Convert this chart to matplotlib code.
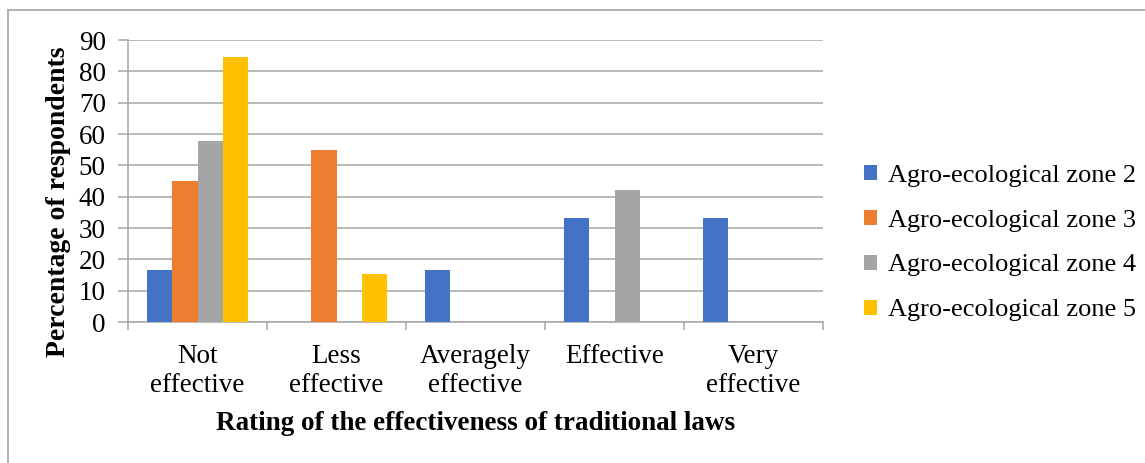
import matplotlib
matplotlib.use("Agg")
import matplotlib.pyplot as plt
import numpy as np
from matplotlib.lines import Line2D

categories = ["Not\neffective", "Less\neffective", "Averagely\neffective", "Effective", "Very\neffective"]
series_names = ["Agro-ecological zone 2", "Agro-ecological zone 3", "Agro-ecological zone 4", "Agro-ecological zone 5"]
zone2 = [16.7, 0, 16.7, 33.3, 33.3]
zone3 = [45.0, 55.0, 0, 0, 0]
zone4 = [57.9, 0, 0, 42.1, 0]
zone5 = [84.6, 15.4, 0, 0, 0]
colors = ["#4472C4", "#ED7D31", "#A5A5A5", "#FFC000"]

plt.rcParams['font.family'] = ['Liberation Serif', 'DejaVu Serif']
FS = 19.5

fig = plt.figure(figsize=(11.45, 4.63), dpi=100)
ax = fig.add_axes([128/1145, 1-322/463, (823-128)/1145, (322-40)/463])

x = np.arange(len(categories))
w = 0.18
for i, (vals, name, c) in enumerate(zip([zone2, zone3, zone4, zone5], series_names, colors)):
    ax.bar(x + (i - 1.5) * w, vals, width=w, color=c, label=name, zorder=3)

ax.set_xlim(-0.5, len(categories) - 0.5)
ax.set_ylim(0, 90)
ax.set_yticks(range(0, 91, 10))
ax.yaxis.grid(True, color="#A6A6A6", linewidth=1.1, zorder=0)
ax.set_xticks(np.arange(-0.5, len(categories), 1.0))
ax.set_xticklabels([])
ax.set_xticks(x, minor=True)
ax.set_xticklabels(categories, minor=True, fontsize=FS, linespacing=1.2)
ax.tick_params(axis='x', which='minor', length=0, pad=16)
ax.tick_params(axis='x', which='major', length=6, color="#A6A6A6", width=1.1)
ax.tick_params(axis='y', length=7, color="#A6A6A6", width=1.1, labelsize=FS, pad=9)
for s in ["top", "right"]:
    ax.spines[s].set_visible(False)
for s in ["left", "bottom"]:
    ax.spines[s].set_color("#A6A6A6")
    ax.spines[s].set_linewidth(1.1)

ax.set_ylabel("Percentage of respondents", fontsize=20, fontweight="bold")
ax.yaxis.set_label_coords((71-128)/695, (322-202)/282)
fig.text(476/1145, 1-424/463, "Rating of the effectiveness of traditional laws",
         fontsize=FS, fontweight="bold", ha="center", va="center")

leg = fig.legend(loc="center left", bbox_to_anchor=(840/1145, 1-243/463), frameon=False,
                 fontsize=19, handlelength=0.5, handleheight=0.5, handletextpad=0.4,
                 labelspacing=0.87)

# chart border (top and left)
fig.add_artist(Line2D([8/1145, 1], [1-10/463, 1-10/463], color="#A6A6A6", lw=1.2))
fig.add_artist(Line2D([8/1145, 8/1145], [0, 1-10/463], color="#A6A6A6", lw=1.2))

fig.savefig("out.png", dpi=100, facecolor="white")
